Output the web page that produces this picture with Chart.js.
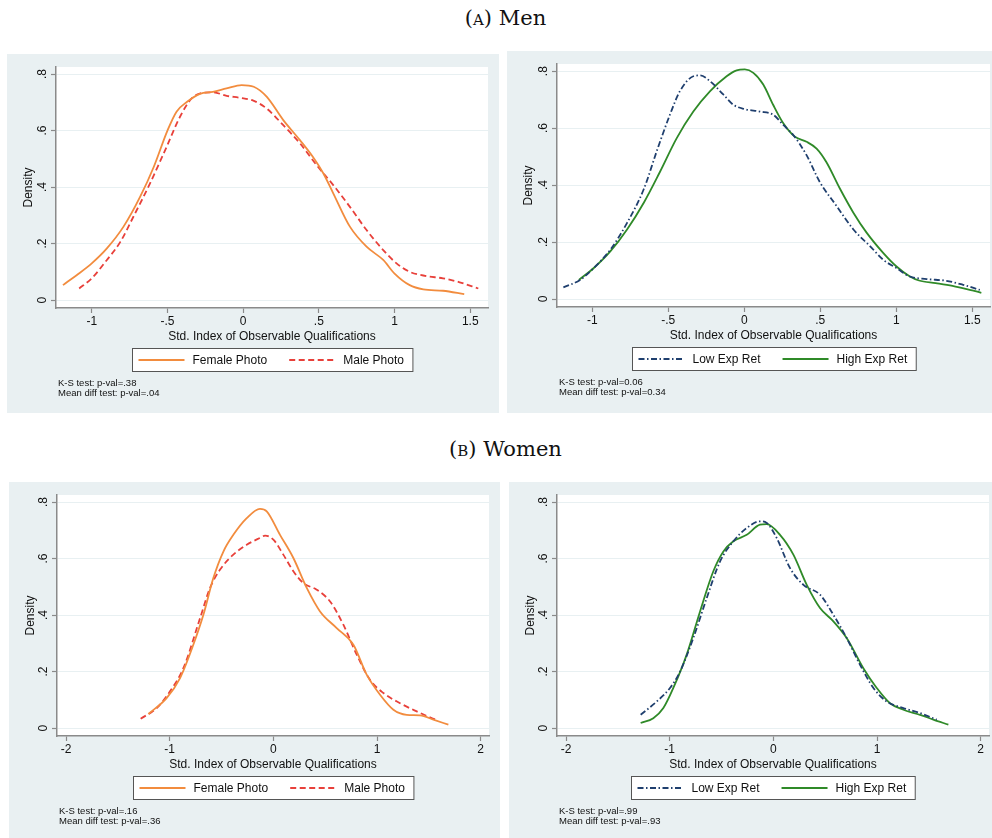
<!DOCTYPE html>
<html>
<head>
<meta charset="utf-8">
<title>Density of observable qualifications</title>
<script src="https://cdn.jsdelivr.net/npm/chart.js@4.4.1/dist/chart.umd.min.js"></script>
<style>
  body {
    margin: 0;
    width: 992px;
    height: 838px;
    background: #fff;
    position: relative;
    overflow: hidden;
    font-family: "Liberation Sans", Arial, sans-serif;
  }
  .caption {
    position: absolute;
    left: 0;
    width: 1011px;
    text-align: center;
    font-family: "DejaVu Serif", "Liberation Serif", serif;
    font-size: 21px;
    line-height: 24px;
    color: #111;
  }
  .sc { font-variant: small-caps; }
  .panel { position: absolute; background: #e9f0f2; }
  .panel canvas { display: block; }
</style>
</head>
<body>
<div class="caption" style="top: 6px;">(<span class="sc">a</span>) Men</div>
<div class="caption" style="top: 437px;">(<span class="sc">b</span>) Women</div>

<script>
// tick values
const menTicksX = [-1, -0.5, 0, 0.5, 1, 1.5];
const womenTicksX = [-2, -1, 0, 1, 2];
const densityTicks = [0, 0.2, 0.4, 0.6, 0.8];

// Men: female vs male photo
const menFemaleX = [-1.19, -1.1, -1.0, -0.9, -0.79, -0.68, -0.59, -0.5, -0.44, -0.37, -0.285, -0.2, -0.11, -0.01, 0.07, 0.155, 0.265, 0.375, 0.46, 0.53, 0.595, 0.705, 0.815, 0.925, 1.0, 1.1, 1.19, 1.32, 1.46];
const menFemaleY = [0.053, 0.088, 0.13, 0.183, 0.26, 0.366, 0.472, 0.6, 0.667, 0.702, 0.73, 0.737, 0.749, 0.761, 0.755, 0.72, 0.637, 0.566, 0.507, 0.448, 0.378, 0.26, 0.189, 0.142, 0.094, 0.053, 0.038, 0.033, 0.021];
const menMaleX = [-1.083, -1.0, -0.9, -0.81, -0.725, -0.615, -0.505, -0.417, -0.34, -0.263, -0.197, -0.109, -0.02, 0.067, 0.155, 0.265, 0.375, 0.485, 0.595, 0.705, 0.815, 0.925, 1.013, 1.1, 1.21, 1.32, 1.43, 1.553];
const menMaleY = [0.041, 0.077, 0.142, 0.207, 0.295, 0.413, 0.543, 0.649, 0.714, 0.734, 0.735, 0.723, 0.716, 0.706, 0.678, 0.619, 0.555, 0.478, 0.407, 0.33, 0.248, 0.177, 0.13, 0.1, 0.085, 0.077, 0.063, 0.041];

// Men: low vs high expected returns
const menLowX = [-1.19, -1.08, -0.99, -0.88, -0.77, -0.66, -0.577, -0.489, -0.423, -0.335, -0.29, -0.226, -0.138, -0.072, 0.0, 0.103, 0.19, 0.257, 0.322, 0.41, 0.498, 0.607, 0.717, 0.827, 0.914, 1.0, 1.09, 1.2, 1.33, 1.44, 1.55];
const menLowY = [0.041, 0.067, 0.109, 0.174, 0.268, 0.387, 0.517, 0.647, 0.73, 0.782, 0.785, 0.765, 0.718, 0.682, 0.667, 0.658, 0.647, 0.611, 0.576, 0.505, 0.41, 0.327, 0.245, 0.186, 0.138, 0.109, 0.079, 0.07, 0.064, 0.05, 0.032];
const menHighX = [-1.088, -0.99, -0.88, -0.77, -0.66, -0.555, -0.445, -0.335, -0.226, -0.116, -0.05, 0.004, 0.06, 0.125, 0.19, 0.257, 0.333, 0.41, 0.476, 0.54, 0.63, 0.717, 0.805, 0.914, 1.0, 1.09, 1.15, 1.26, 1.37, 1.5, 1.56];
const menHighY = [0.067, 0.109, 0.168, 0.245, 0.339, 0.446, 0.564, 0.658, 0.729, 0.782, 0.803, 0.806, 0.794, 0.753, 0.682, 0.617, 0.57, 0.552, 0.528, 0.481, 0.387, 0.304, 0.233, 0.162, 0.115, 0.079, 0.065, 0.056, 0.046, 0.03, 0.022];

// Women: female vs male photo
const womenFemaleX = [-1.206, -1.03, -0.9, -0.772, -0.675, -0.579, -0.482, -0.386, -0.257, -0.129, -0.064, 0.064, 0.193, 0.322, 0.45, 0.611, 0.772, 0.9, 1.029, 1.158, 1.286, 1.415, 1.543, 1.688];
const womenFemaleY = [0.05, 0.106, 0.177, 0.295, 0.401, 0.531, 0.625, 0.684, 0.743, 0.776, 0.767, 0.684, 0.602, 0.496, 0.413, 0.354, 0.295, 0.189, 0.118, 0.065, 0.047, 0.045, 0.03, 0.012];
const womenMaleX = [-1.28, -1.125, -0.997, -0.868, -0.707, -0.611, -0.514, -0.386, -0.257, -0.129, -0.08, 0.0, 0.096, 0.193, 0.29, 0.418, 0.547, 0.675, 0.804, 0.932, 1.061, 1.222, 1.383, 1.511, 1.59];
const womenMaleY = [0.033, 0.071, 0.13, 0.212, 0.389, 0.496, 0.561, 0.614, 0.649, 0.673, 0.681, 0.667, 0.614, 0.555, 0.513, 0.49, 0.448, 0.366, 0.26, 0.171, 0.124, 0.088, 0.059, 0.038, 0.026];

// Women: low vs high expected returns
const womenLowX = [-1.28, -1.125, -0.997, -0.9, -0.772, -0.643, -0.514, -0.386, -0.257, -0.129, -0.064, 0.032, 0.161, 0.29, 0.45, 0.579, 0.707, 0.836, 0.965, 1.093, 1.254, 1.415, 1.576];
const womenLowY = [0.047, 0.094, 0.142, 0.2, 0.319, 0.46, 0.59, 0.661, 0.708, 0.732, 0.726, 0.673, 0.566, 0.507, 0.472, 0.401, 0.319, 0.224, 0.142, 0.094, 0.071, 0.053, 0.03];
const womenHighX = [-1.28, -1.158, -1.061, -0.965, -0.836, -0.707, -0.579, -0.482, -0.386, -0.257, -0.129, -0.064, 0.064, 0.193, 0.322, 0.45, 0.579, 0.707, 0.868, 0.997, 1.125, 1.254, 1.415, 1.543, 1.688];
const womenHighY = [0.018, 0.035, 0.071, 0.142, 0.26, 0.413, 0.555, 0.625, 0.661, 0.684, 0.72, 0.722, 0.684, 0.614, 0.507, 0.425, 0.378, 0.319, 0.212, 0.142, 0.088, 0.065, 0.047, 0.03, 0.012];

const AXIS = "#8a8a8a";
const TEXT = "#111";
const FONT = "'Liberation Sans', Arial, sans-serif";
const X_AXIS_H = 40;

const photoStyle = {
  female: { label: "Female Photo", color: "#f28c3e", dash: [] },
  male: { label: "Male Photo", color: "#e8403a", dash: [6, 3.5] },
};
const retStyle = {
  low: { label: "Low Exp Ret", color: "#1f3f6e", dash: [6, 2.5, 1.5, 2.5] },
  high: { label: "High Exp Ret", color: "#2f8a28", dash: [] },
};

// strip the leading zero like Stata does: .5, -.5
function stataNum(v) {
  const s = String(Math.round(v * 10) / 10);
  return s.replace(/^(-?)0\./, "$1.");
}

// white plot region
const plotBackground = {
  id: "plotBackground",
  beforeDraw(chart) {
    const a = chart.chartArea;
    const ctx = chart.ctx;
    ctx.save();
    ctx.fillStyle = "#fff";
    ctx.fillRect(a.left, a.top, a.right - a.left, a.bottom - a.top);
    ctx.restore();
  },
};

// boxed legend under the axis title, then the test notes
const panelExtras = {
  id: "panelExtras",
  afterDraw(chart, args, opts) {
    const ctx = chart.ctx;
    const area = chart.chartArea;
    const items = chart.data.datasets;
    const sample = 46, gapText = 8, gapItem = 22, padL = 6, padR = 9;
    ctx.save();
    ctx.font = "12px " + FONT;
    const widths = items.map((d) => ctx.measureText(d.label).width);
    const w = padL + padR + items.length * (sample + gapText) +
      widths.reduce((a, b) => a + b, 0) + gapItem * (items.length - 1);
    const h = 23;
    const x0 = Math.round((area.left + area.right) / 2 - w / 2) + 0.5;
    const y0 = Math.round(area.bottom + X_AXIS_H) + 0.5;
    ctx.fillStyle = "#fff";
    ctx.fillRect(x0, y0, w, h);
    ctx.strokeStyle = "#555";
    ctx.lineWidth = 1;
    ctx.strokeRect(x0, y0, w, h);

    let x = x0 + padL;
    const my = y0 + h / 2;
    items.forEach((d, i) => {
      ctx.beginPath();
      ctx.setLineDash(d.borderDash || []);
      ctx.strokeStyle = d.borderColor;
      ctx.lineWidth = d.borderWidth;
      ctx.moveTo(x, my);
      ctx.lineTo(x + sample, my);
      ctx.stroke();
      ctx.setLineDash([]);
      x += sample + gapText;
      ctx.fillStyle = TEXT;
      ctx.textBaseline = "middle";
      ctx.fillText(d.label, x, my + 0.5);
      x += widths[i] + gapItem;
    });

    ctx.font = "9.5px " + FONT;
    ctx.fillStyle = TEXT;
    ctx.textBaseline = "middle";
    opts.notes.forEach((t, i) => {
      ctx.fillText(t, area.left + 2, area.bottom + 75 + i * 10);
    });
    ctx.restore();
  },
};

function series(style, xs, ys) {
  return {
    label: style.label,
    data: xs.map((x, i) => ({ x: x, y: ys[i] })),
    borderColor: style.color,
    borderWidth: 1.8,
    borderDash: style.dash,
    pointRadius: 0,
    cubicInterpolationMode: "monotone",
    fill: false,
  };
}

const panels = [
  {
    box: [7, 54, 492, 359], plot: [56, 67, 488, 308],
    xRange: [-1.236, 1.617], xTicks: menTicksX,
    datasets: [series(photoStyle.female, menFemaleX, menFemaleY), series(photoStyle.male, menMaleX, menMaleY)],
    notes: ["K-S test: p-val=.38", "Mean diff test: p-val=.04"],
  },
  {
    box: [507, 51, 485, 362], plot: [557, 64, 990, 307],
    xRange: [-1.232, 1.617], xTicks: menTicksX,
    datasets: [series(retStyle.low, menLowX, menLowY), series(retStyle.high, menHighX, menHighY)],
    notes: ["K-S test: p-val=0.06", "Mean diff test: p-val=0.34"],
  },
  {
    box: [9, 482, 491, 356], plot: [57, 495, 489, 736],
    xRange: [-2.087, 2.08], xTicks: womenTicksX,
    datasets: [series(photoStyle.female, womenFemaleX, womenFemaleY), series(photoStyle.male, womenMaleX, womenMaleY)],
    notes: ["K-S test: p-val=.16", "Mean diff test: p-val=.36"],
  },
  {
    box: [509, 482, 483, 356], plot: [557, 495, 989, 736],
    xRange: [-2.087, 2.08], xTicks: womenTicksX,
    datasets: [series(retStyle.low, womenLowX, womenLowY), series(retStyle.high, womenHighX, womenHighY)],
    notes: ["K-S test: p-val=.99", "Mean diff test: p-val=.93"],
  },
];

panels.forEach((p) => {
  const [bx, by, bw, bh] = p.box;
  const [pl, pt, pr, pb] = p.plot;
  const div = document.createElement("div");
  div.className = "panel";
  div.style.left = bx + "px";
  div.style.top = by + "px";
  div.style.width = bw + "px";
  div.style.height = bh + "px";
  const canvas = document.createElement("canvas");
  canvas.width = bw;
  canvas.height = bh;
  div.appendChild(canvas);
  document.body.appendChild(div);

  const yAxisW = pl - bx;

  new Chart(canvas, {
    type: "line",
    data: { datasets: p.datasets },
    options: {
      responsive: false,
      animation: false,
      layout: {
        padding: { left: 0, top: pt - by, right: bx + bw - pr, bottom: by + bh - pb - X_AXIS_H },
      },
      plugins: {
        legend: { display: false },
        tooltip: { enabled: false },
        panelExtras: { notes: p.notes },
      },
      scales: {
        x: {
          type: "linear",
          min: p.xRange[0],
          max: p.xRange[1],
          afterFit: (s) => { s.height = X_AXIS_H; },
          afterBuildTicks: (s) => { s.ticks = p.xTicks.map((v) => ({ value: v })); },
          grid: { drawOnChartArea: false, drawTicks: true, tickLength: 5, tickColor: AXIS, tickWidth: 1.2 },
          border: { color: AXIS, width: 1.5 },
          ticks: { color: TEXT, font: { family: FONT, size: 12 }, padding: 1, maxRotation: 0, callback: stataNum },
          title: {
            display: true,
            text: "Std. Index of Observable Qualifications",
            color: TEXT,
            font: { family: FONT, size: 12 },
            padding: { top: 0, bottom: 4 },
          },
        },
        y: {
          min: -0.028,
          max: 0.825,
          afterFit: (s) => { s.width = yAxisW; },
          afterBuildTicks: (s) => { s.ticks = densityTicks.map((v) => ({ value: v })); },
          grid: { color: "#e8f0f2", lineWidth: 1, drawTicks: true, tickLength: 5, tickColor: AXIS, tickWidth: 1.2 },
          border: { color: AXIS, width: 1.5 },
          ticks: {
            color: TEXT,
            font: { family: FONT, size: 12 },
            padding: 3,
            minRotation: 90,
            maxRotation: 90,
            crossAlign: "center",
            callback: stataNum,
          },
          title: {
            display: true,
            text: "Density",
            color: TEXT,
            font: { family: FONT, size: 12 },
            padding: { top: 14, bottom: 0 },
          },
        },
      },
    },
    plugins: [plotBackground, panelExtras],
  });
});
</script>
</body>
</html>
